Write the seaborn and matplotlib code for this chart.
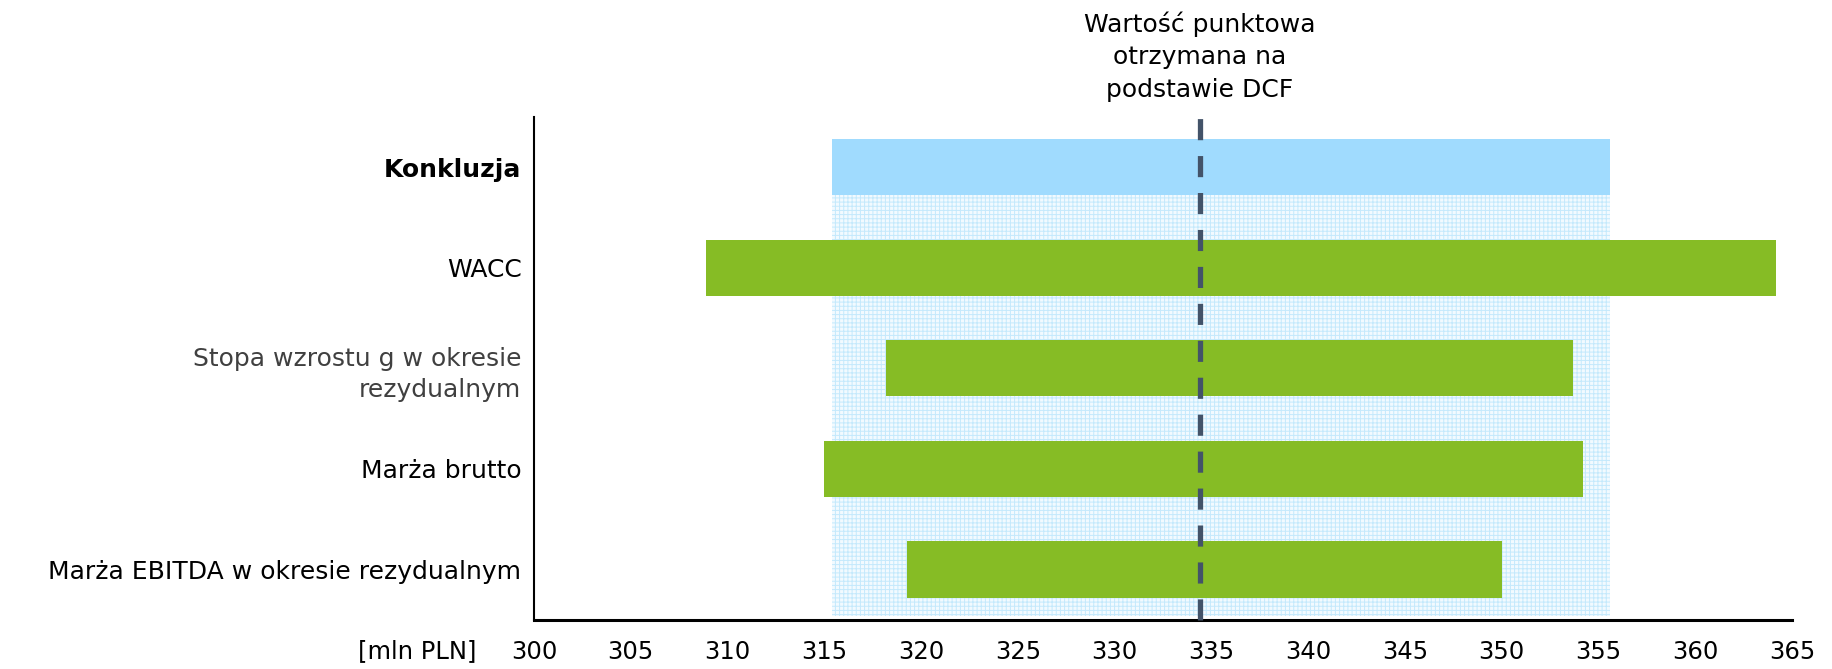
import seaborn as sns
import matplotlib.pyplot as plt

# Dane (mln PLN)
categories = ["Konkluzja", "WACC", "Stopa wzrostu g w okresie\nrezydualnym",
              "Marża brutto", "Marża EBITDA w okresie rezydualnym"]
low = [315.4, 308.9, 318.2, 315.0, 319.3]
high = [355.6, 364.2, 353.7, 354.2, 350.0]
dcf_value = 334.4
xticks = list(range(300, 370, 5))

sns.set_style("white")
plt.rcParams["font.family"] = ["DejaVu Sans"]
plt.rcParams["hatch.linewidth"] = 0.7
plt.rcParams["text.color"] = "black"
plt.rcParams["xtick.color"] = "black"
plt.rcParams["ytick.color"] = "black"

fig = plt.figure(figsize=(18.33, 6.69), dpi=100)
ax = fig.add_axes([0.2913, 0.0738, 0.9776 - 0.2913, 0.825 - 0.0738])

pos = list(range(len(categories)))
bar_h = 0.56
colors = ["#a0dbfe"] + ["#86bc25"] * (len(categories) - 1)
widths = [h - l for l, h in zip(low, high)]

# Zakres konkluzji w tle (kratka)
ax.fill_betweenx([pos[0] + bar_h / 2, pos[-1] + 0.46], low[0], high[0],
                 facecolor="#f2faff", edgecolor="#c4e9fc", hatch="++++",
                 linewidth=0, zorder=1)

ax.barh(pos, widths, left=low, height=bar_h, color=colors, linewidth=0, zorder=2)

ax.axvline(dcf_value, ymin=0, ymax=1.01, color="#435369", lw=3.8,
           dashes=(4, 3), dash_capstyle="butt", clip_on=False, zorder=3)

ax.set_xlim(300, 365)
ax.set_ylim(len(categories) - 0.5, -0.5)
ax.set_xticks(xticks)
ax.set_yticks(pos)
ax.set_yticklabels(categories, fontsize=18, linespacing=1.4)
ax.tick_params(axis="x", length=0, pad=15, labelsize=17.5)
ax.tick_params(axis="y", length=0, pad=9)
for lab in ax.get_yticklabels():
    if lab.get_text() == "Konkluzja":
        lab.set_fontweight("bold")
    if lab.get_text().startswith("Stopa"):
        lab.set_color("#404040")

sns.despine(ax=ax)
ax.spines["left"].set_linewidth(1.5)
ax.spines["bottom"].set_linewidth(2.2)
ax.spines["left"].set_color("black")
ax.spines["bottom"].set_color("black")

ax.annotate("Wartość punktowa\notrzymana na\npodstawie DCF",
            xy=(dcf_value, 1), xycoords=("data", "axes fraction"),
            xytext=(0, 11), textcoords="offset points",
            ha="center", va="bottom", fontsize=18, linespacing=1.45)

fig.text(476 / 1833, 1 - 651 / 669, "[mln PLN]", ha="right", va="center", fontsize=17.5)

fig.savefig("out.png", dpi=100)
